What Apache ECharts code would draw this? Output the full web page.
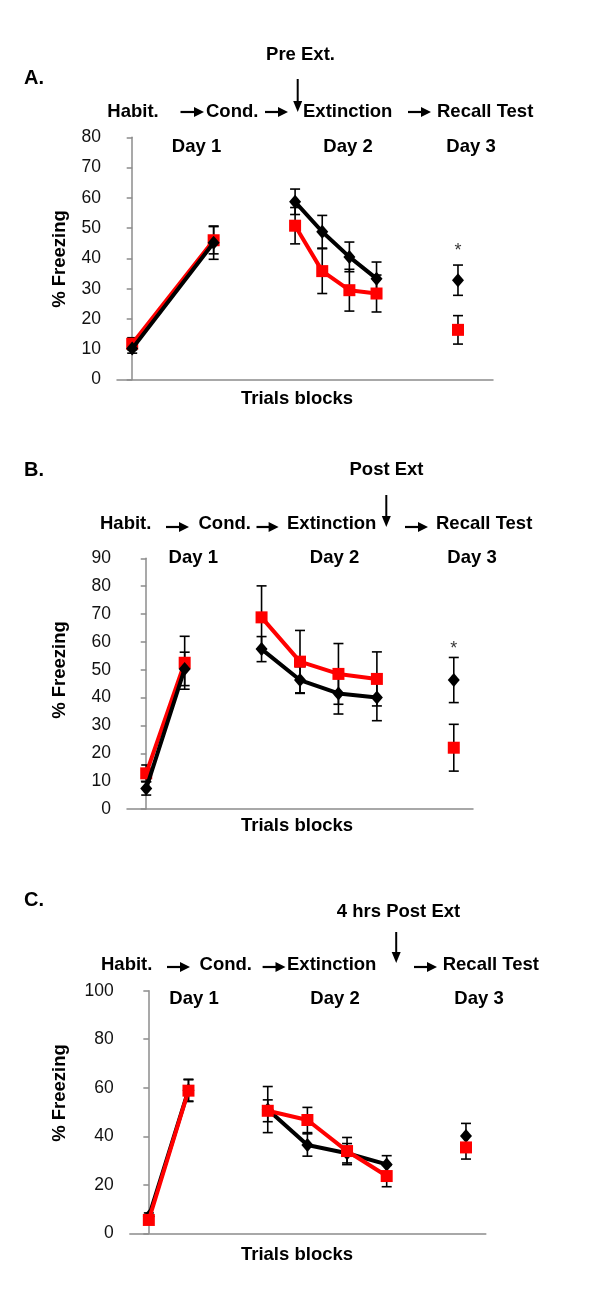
<!DOCTYPE html>
<html>
<head>
<meta charset="utf-8">
<script src="https://cdn.jsdelivr.net/npm/echarts@6/dist/echarts.min.js"></script>
<style>
html,body{margin:0;padding:0;background:#fff;}
#c{width:600px;height:1292px;}
</style>
</head>
<body>
<div id="c"></div>
<script>
// ---------- DATA ----------
// connected runs of points: Day 1 (2 blocks), Day 2 (4 blocks), Day 3 (1 block)
const runs = [2, 4, 1];

// Panel A (Pre Ext.)
const posA = [0, 3, 6, 7, 8, 9, 12];
const blackA = [10.2, 45.2, 58.7, 48.8, 40.5, 33.3, 32.8];
const blackErrA = [1.5, 5.5, 4.2, 5.4, 4.9, 5.5, 5.0];
const redA = [11.8, 46.0, 50.8, 35.8, 29.5, 28.4, 16.4];
const redErrA = [2.0, 4.5, 6.0, 7.4, 6.9, 6.1, 4.7];
const starA = [12, 42.5];

// Panel B (Post Ext)
const posB = [0, 1, 3, 4, 5, 6, 8];
const blackB = [7.4, 50.3, 57.4, 46.3, 41.5, 40.0, 46.3];
const blackErrB = [2.4, 6.0, 4.5, 4.8, 7.4, 8.3, 8.1];
const redB = [12.8, 52.5, 68.8, 52.9, 48.5, 46.7, 22.0];
const redErrB = [3.0, 9.5, 11.3, 11.2, 10.9, 9.7, 8.4];
const starB = [8, 57.4];

// Panel C (4 hrs Post Ext)
const posC = [0, 1, 3, 4, 5, 6, 8];
const blackC = [6.9, 59.0, 51.0, 36.4, 33.0, 28.4, 40.1];
const blackErrC = [1.5, 4.5, 9.5, 4.6, 4.0, 3.6, 5.2];
const redC = [5.5, 58.8, 50.5, 46.7, 33.9, 23.6, 35.4];
const redErrC = [1.5, 4.5, 4.5, 5.2, 5.6, 4.4, 4.8];

// y axis ticks
const yTicksA = [0, 80, 10];
const yTicksB = [0, 90, 10];
const yTicksC = [0, 100, 20];

// text
const stages = ['Habit.', 'Cond.', 'Extinction', 'Recall Test'];
const days = ['Day 1', 'Day 2', 'Day 3'];
const yName = '% Freezing';
const xName = 'Trials blocks';
const panelLetters = ['A.', 'B.', 'C.'];
const timing = ['Pre Ext.', 'Post Ext', '4 hrs Post Ext'];

// ---------- BUILD ----------
const FONT = "'Liberation Sans', Arial, Helvetica, sans-serif";
const BOLD = 'bold 18.5px ' + FONT;

function lineData(pos, vals) {
  const out = [];
  let k = 0;
  runs.forEach((n, r) => {
    if (r > 0) out.push([(pos[k - 1] + pos[k]) / 2, '-']);
    for (let j = 0; j < n; j++, k++) out.push([pos[k], vals[k]]);
  });
  return out;
}
function errData(pos, vals, errs) {
  return pos.map((p, i) => [p, vals[i] - errs[i], vals[i] + errs[i]]);
}
function errSeries(idx, data) {
  return {
    type: 'custom', xAxisIndex: idx, yAxisIndex: idx, z: 1, silent: true,
    encode: { x: 0, y: [1, 2] },
    data: data,
    renderItem: function (params, api) {
      const x = api.value(0);
      const lo = api.coord([x, api.value(1)]);
      const hi = api.coord([x, api.value(2)]);
      const w = 5;
      const st = { stroke: '#000', lineWidth: 1.6 };
      return {
        type: 'group',
        children: [
          { type: 'line', shape: { x1: hi[0], y1: hi[1], x2: lo[0], y2: lo[1] }, style: st },
          { type: 'line', shape: { x1: hi[0] - w, y1: hi[1], x2: hi[0] + w, y2: hi[1] }, style: st },
          { type: 'line', shape: { x1: lo[0] - w, y1: lo[1], x2: lo[0] + w, y2: lo[1] }, style: st }
        ]
      };
    }
  };
}
function lineSeries(idx, data, color, symbol, size, z) {
  return {
    type: 'line', xAxisIndex: idx, yAxisIndex: idx, z: z,
    data: data, symbol: symbol, symbolSize: size, showSymbol: true,
    connectNulls: false, animation: false,
    lineStyle: { color: color, width: 4 },
    itemStyle: { color: color, borderWidth: 0 }
  };
}
function starSeries(idx, pt) {
  return {
    type: 'scatter', xAxisIndex: idx, yAxisIndex: idx, symbolSize: 0, z: 5,
    data: [pt],
    label: { show: true, formatter: '*', position: 'inside', color: '#000',
      fontFamily: FONT, fontSize: 18, fontWeight: 'normal' }
  };
}

const grids = [
  { left: 117, top: 137.3, width: 376, height: 242.2 },
  { left: 127, top: 558.3, width: 346, height: 250.7 },
  { left: 129.8, top: 990.7, width: 356, height: 242.6 }
];
const xRanges = [[-0.56, 13.29], [-0.5, 8.5], [-0.48, 8.5]];
const yTicks = [yTicksA, yTicksB, yTicksC];

const xAxes = grids.map((gr, i) => ({
  type: 'value', gridIndex: i, min: xRanges[i][0], max: xRanges[i][1],
  axisLine: { show: true, onZero: false, lineStyle: { color: '#8c8c8c', width: 1.5 } },
  axisTick: { show: false }, axisLabel: { show: false }, splitLine: { show: false }
}));
const yAxes = grids.map((gr, i) => ({
  type: 'value', gridIndex: i, min: yTicks[i][0], max: yTicks[i][1], interval: yTicks[i][2],
  axisLine: { show: true, lineStyle: { color: '#8c8c8c', width: 1.5 } },
  axisTick: { show: true, length: 5.5, lineStyle: { color: '#8c8c8c', width: 1.5 } },
  axisLabel: { color: '#111', fontFamily: FONT, fontSize: 17.5, margin: 16 },
  splitLine: { show: false }
}));

const series = [
  errSeries(0, errData(posA, redA, redErrA)),
  errSeries(0, errData(posA, blackA, blackErrA)),
  lineSeries(0, lineData(posA, redA), '#ff0000', 'rect', 12, 2),
  lineSeries(0, lineData(posA, blackA), '#000000', 'diamond', [12, 14], 3),
  starSeries(0, starA),

  errSeries(1, errData(posB, redB, redErrB)),
  errSeries(1, errData(posB, blackB, blackErrB)),
  lineSeries(1, lineData(posB, redB), '#ff0000', 'rect', 12, 2),
  lineSeries(1, lineData(posB, blackB), '#000000', 'diamond', [12, 14], 3),
  starSeries(1, starB),

  errSeries(2, errData(posC, blackC, blackErrC)),
  errSeries(2, errData(posC, redC, redErrC)),
  lineSeries(2, lineData(posC, blackC), '#000000', 'diamond', [12, 14], 2),
  lineSeries(2, lineData(posC, redC), '#ff0000', 'rect', 12, 3)
];

// ---------- GRAPHIC TEXT / ARROWS ----------
const g = [];
function txt(s, x, y, font, align, rot) {
  g.push({
    type: 'text', x: x, y: y, rotation: rot || 0, z: 10,
    style: { text: s, font: font, fill: '#000',
      align: align || 'left', textAlign: align || 'left',
      verticalAlign: 'middle', textVerticalAlign: 'middle' }
  });
}
function hArrow(x1, x2, y) {
  g.push({ type: 'line', z: 10, shape: { x1: x1, y1: y, x2: x2 - 6, y2: y }, style: { stroke: '#000', lineWidth: 2.2 } });
  g.push({ type: 'polygon', z: 10, shape: { points: [[x2 - 10, y - 5], [x2, y], [x2 - 10, y + 5]] }, style: { fill: '#000' } });
}
function vArrow(x, y1, y2) {
  g.push({ type: 'line', z: 10, shape: { x1: x, y1: y1, x2: x, y2: y2 - 6 }, style: { stroke: '#000', lineWidth: 2 } });
  g.push({ type: 'polygon', z: 10, shape: { points: [[x - 4.5, y2 - 11], [x, y2], [x + 4.5, y2 - 11]] }, style: { fill: '#000' } });
}

const layout = [
  { letterY: 78, timing: [300.5, 55], vArrow: [297.7, 79, 112], rowY: 111.7, arrowY: 112,
    stageX: [107.3, 206, 303, 437], arrows: [[180.5, 204], [265, 288], [408, 431]],
    dayY: 147, dayX: [196.5, 348, 471], yNameY: 259, xNameY: 399 },
  { letterY: 470, timing: [386.5, 470], vArrow: [386.3, 495, 527], rowY: 524, arrowY: 527,
    stageX: [100, 198.5, 287, 436], arrows: [[166, 189], [256.5, 278.6], [405, 428]],
    dayY: 558, dayX: [193.3, 334.5, 472], yNameY: 670, xNameY: 826 },
  { letterY: 900, timing: [398.5, 912], vArrow: [396.2, 932, 963], rowY: 965, arrowY: 967,
    stageX: [101, 199.6, 287, 442.7], arrows: [[167, 190], [262.6, 285.5], [414, 437]],
    dayY: 999, dayX: [194, 335, 479], yNameY: 1093, xNameY: 1255 }
];
layout.forEach((L, i) => {
  txt(panelLetters[i], 24, L.letterY, 'bold 20px ' + FONT, 'left');
  txt(timing[i], L.timing[0], L.timing[1], BOLD, 'center');
  vArrow(L.vArrow[0], L.vArrow[1], L.vArrow[2]);
  stages.forEach((s, k) => txt(s, L.stageX[k], L.rowY, BOLD, 'left'));
  L.arrows.forEach(a => hArrow(a[0], a[1], L.arrowY));
  days.forEach((d, k) => txt(d, L.dayX[k], L.dayY, BOLD, 'center'));
  txt(yName, 60, L.yNameY, BOLD, 'center', Math.PI / 2);
  txt(xName, 297, L.xNameY, BOLD, 'center');
});

const chart = echarts.init(document.getElementById('c'), null, { renderer: 'canvas' });
chart.setOption({
  animation: false,
  backgroundColor: '#ffffff',
  grid: grids,
  xAxis: xAxes,
  yAxis: yAxes,
  series: series,
  graphic: { elements: g }
});
</script>
</body>
</html>
